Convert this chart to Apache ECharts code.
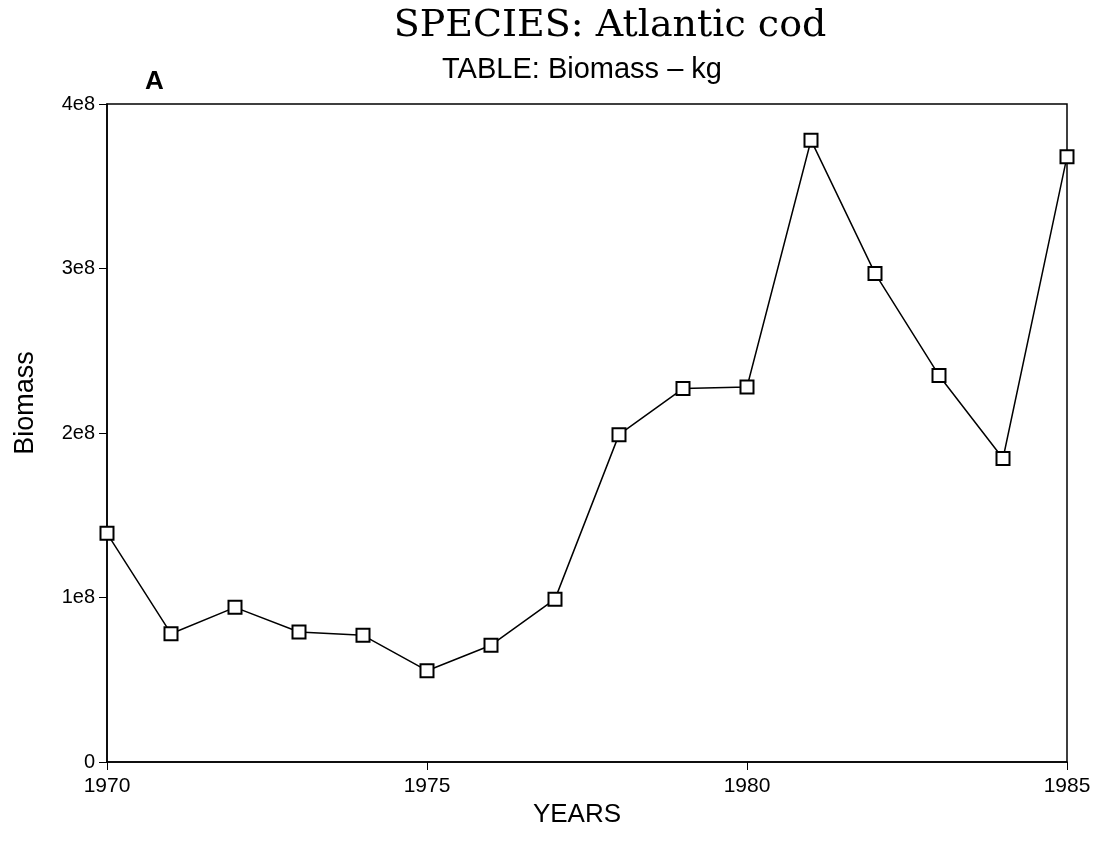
<!DOCTYPE html>
<html>
<head>
<meta charset="utf-8">
<script src="https://cdn.jsdelivr.net/npm/echarts@6/dist/echarts.min.js"></script>
<style>
  html, body { margin: 0; padding: 0; background: #fff; }
  #chart { width: 1101px; height: 844px; }
</style>
</head>
<body>
<div id="chart"></div>
<script>
// data
var years = [1970, 1971, 1972, 1973, 1974, 1975, 1976, 1977, 1978, 1979, 1980, 1981, 1982, 1983, 1984, 1985];
var biomass = [1.39e8, 0.78e8, 0.94e8, 0.79e8, 0.77e8, 0.555e8, 0.71e8, 0.99e8, 1.99e8, 2.27e8, 2.28e8, 3.78e8, 2.97e8, 2.35e8, 1.845e8, 3.68e8];
var yTickLabels = { 0: "0", 100000000: "1e8", 200000000: "2e8", 300000000: "3e8", 400000000: "4e8" };

var chart = echarts.init(document.getElementById("chart"));

var points = years.map(function (y, i) { return [y, biomass[i]]; });

var option = {
  backgroundColor: "#fff",
  animation: false,
  title: [
    {
      text: "SPECIES: Atlantic cod",
      left: 605, top: 2,
      textAlign: "center",
      textStyle: { fontFamily: "DejaVu Serif", fontWeight: "normal", fontSize: 38, color: "#000" }
    },
    {
      text: "TABLE: Biomass \u2013 kg",
      left: 577, top: 50,
      textAlign: "center",
      textStyle: { fontFamily: "Liberation Sans", fontWeight: "normal", fontSize: 29, color: "#000" }
    },
    {
      text: "A",
      left: 140, top: 64,
      textStyle: { fontFamily: "Liberation Sans", fontWeight: "bold", fontSize: 26, color: "#000" }
    }
  ],
  grid: {
    left: 107, top: 104, width: 960, height: 658,
    outerBoundsMode: "none",
    show: true, borderColor: "#000", borderWidth: 1.5, backgroundColor: "transparent"
  },
  xAxis: {
    type: "value",
    min: 1970, max: 1985, interval: 5,
    name: "YEARS",
    nameLocation: "middle",
    nameGap: 36,
    nameTextStyle: { fontFamily: "Liberation Sans", fontSize: 26, color: "#000", padding: [0, 20, 0, 0] },
    axisLine: { show: true, onZero: false, lineStyle: { color: "#000", width: 1.5 } },
    axisTick: { show: true, length: 8, lineStyle: { color: "#000" } },
    axisLabel: {
      fontFamily: "Liberation Sans", fontSize: 21, color: "#000", margin: 14,
      formatter: function (v) { return String(v); }
    },
    splitLine: { show: false }
  },
  yAxis: {
    type: "value",
    min: 0, max: 4e8, interval: 1e8,
    name: "Biomass",
    nameLocation: "middle",
    nameGap: 68,
    nameTextStyle: { fontFamily: "Liberation Sans", fontSize: 27, color: "#000", padding: [0, 0, 0, 60] },
    axisLine: { show: true, lineStyle: { color: "#000", width: 1.5 } },
    axisTick: { show: true, length: 8, lineStyle: { color: "#000" } },
    axisLabel: {
      fontFamily: "Liberation Sans", fontSize: 20, color: "#000", margin: 12,
      formatter: function (v) { return yTickLabels[v] !== undefined ? yTickLabels[v] : ""; }
    },
    splitLine: { show: false }
  },
  series: [
    {
      type: "line",
      data: points,
      symbol: "rect",
      symbolSize: 13,
      lineStyle: { color: "#000", width: 1.5 },
      itemStyle: { color: "#fff", borderColor: "#000", borderWidth: 2 },
      z: 3
    }
  ]
};

chart.setOption(option);
</script>
</body>
</html>
